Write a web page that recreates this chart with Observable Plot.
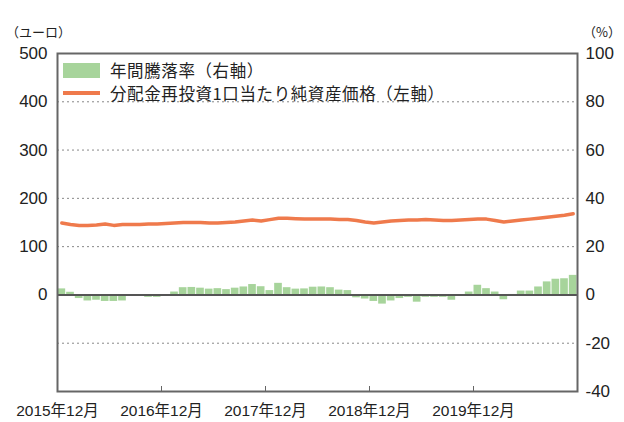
<!DOCTYPE html>
<html><head><meta charset="utf-8">
<script src="https://cdn.jsdelivr.net/npm/d3@7"></script>
<script src="https://cdn.jsdelivr.net/npm/@observablehq/plot@0.6"></script>
<style>
body{margin:0;background:#fff;font-family:"Liberation Sans","Noto Sans CJK JP",sans-serif;color:#222}
#wrap{position:relative;width:624px;height:422px;overflow:hidden;background:#fff}
#wrap svg{position:absolute;left:0;top:0}
.unit{position:absolute;top:25px;font-size:13px;line-height:13px;font-family:"Noto Sans CJK JP",sans-serif}
#legend{position:absolute;left:59px;top:55px;width:412px;height:46px;background:#fff;font-family:"Noto Sans CJK JP",sans-serif;font-size:16.5px;letter-spacing:0.6px}
.row{position:absolute;left:4px;display:flex;align-items:center;height:22px}
.sw{width:37px;margin-right:10px}
</style></head><body><div id="wrap">
<div class="unit" style="left:6px">（ユーロ）</div>
<div class="unit" style="left:583px">（%）</div>
</div>
<script>
const tickIdx = [0, 12, 24, 36, 48];
const tickLabels = ["2015年12月", "2016年12月", "2017年12月", "2018年12月", "2019年12月"];
const leftTicks = [0, 100, 200, 300, 400, 500];
const rightTicks = [-40, -20, 0, 20, 40, 60, 80, 100];
const seriesNames = ["年間騰落率（右軸）", "分配金再投資1口当たり純資産価格（左軸）"];
const colors = ["#a7d49b", "#ef7a4c"];
// annual return (%) by month, Dec 2015 .. Nov 2020
const rate = [2.5,1.1,-1.5,-2.5,-2.2,-2.7,-2.7,-2.5,-0.6,0,
  -1.0,-1.0,0,1.2,3.0,3.1,2.8,2.4,2.6,2.2,
  2.8,3.3,4.3,3.4,1.8,4.8,3.0,2.4,2.5,3.2,
  3.3,3.0,2.0,1.8,-1.2,-1.7,-2.7,-3.8,-2.5,-1.5,
  -1.0,-3.0,-1.0,-1.0,-1.0,-2.2,-0.4,1.2,4.0,2.6,
  1.2,-2.0,0.2,1.6,1.6,3.3,5.4,6.5,6.7,8.1];
// NAV per unit (EUR)
const nav = [149,146,144,144,145,147,144,146,146,146,
  147,147,148,149,150,150,150,149,149,150,
  151,153,155,153,156,159,159,158,157,157,
  157,157,156,156,154,151,149,151,153,154,
  155,155,156,155,154,154,155,156,157,157,
  154,151,153,155,157,159,161,163,165,168];

const ratio = 5; // right axis (%) -> left axis (EUR)
const data = rate.map((r, i) => ({i, rate: r, nav: nav[i]}));

const chart = Plot.plot({
  width: 624, height: 422,
  marginTop: 53, marginBottom: 31, marginLeft: 57, marginRight: 47,
  style: {fontFamily: '"Liberation Sans","Noto Sans CJK JP",sans-serif', fontSize: "17px", color: "#222", background: "transparent"},
  x: {type: "linear", domain: [0, 60], axis: null},
  y: {domain: [rightTicks[0] * ratio, rightTicks[rightTicks.length - 1] * ratio], axis: null},
  marks: [
    Plot.gridY(rightTicks.filter(t => t !== 0 && t !== 100 && t !== -40).map(t => t * ratio), {stroke: "#888", strokeOpacity: 1, strokeDasharray: "2,3"}),
    Plot.rectY(data, {x1: d => d.i, x2: d => d.i + 1, y: d => d.rate * ratio, fill: colors[0], insetLeft: 0.5, insetRight: 0.5}),
    Plot.ruleY([0], {stroke: "#555", strokeWidth: 2}),
    Plot.line(data, {x: d => d.i + 0.5, y: "nav", stroke: colors[1], strokeWidth: 3.5}),
    Plot.gridX(tickIdx.slice(1), {stroke: "#666", strokeOpacity: 1, insetTop: 333}),
    Plot.frame({stroke: "#666", strokeWidth: 2}),
    Plot.axisY(leftTicks, {anchor: "left", tickSize: 0, tickPadding: 10, label: null}),
    Plot.axisY(rightTicks.map(t => t * ratio), {anchor: "right", tickSize: 0, tickPadding: 8, label: null, tickFormat: d => `${d / ratio}`}),
    Plot.axisX(tickIdx, {anchor: "bottom", tickSize: 0, tickPadding: 13, label: null, fontSize: 15.5, tickFormat: d => tickLabels[tickIdx.indexOf(d)]})
  ]
});
const wrap = document.getElementById("wrap");
wrap.prepend(chart);

const legend = document.createElement("div");
legend.id = "legend";
legend.innerHTML = `
  <div class="row" style="top:4px"><div class="sw" style="height:15px;background:${colors[0]}"></div><span>${seriesNames[0]}</span></div>
  <div class="row" style="top:27px"><div class="sw" style="height:4px;background:${colors[1]}"></div><span>${seriesNames[1]}</span></div>`;
wrap.appendChild(legend);
</script>
</body></html>
